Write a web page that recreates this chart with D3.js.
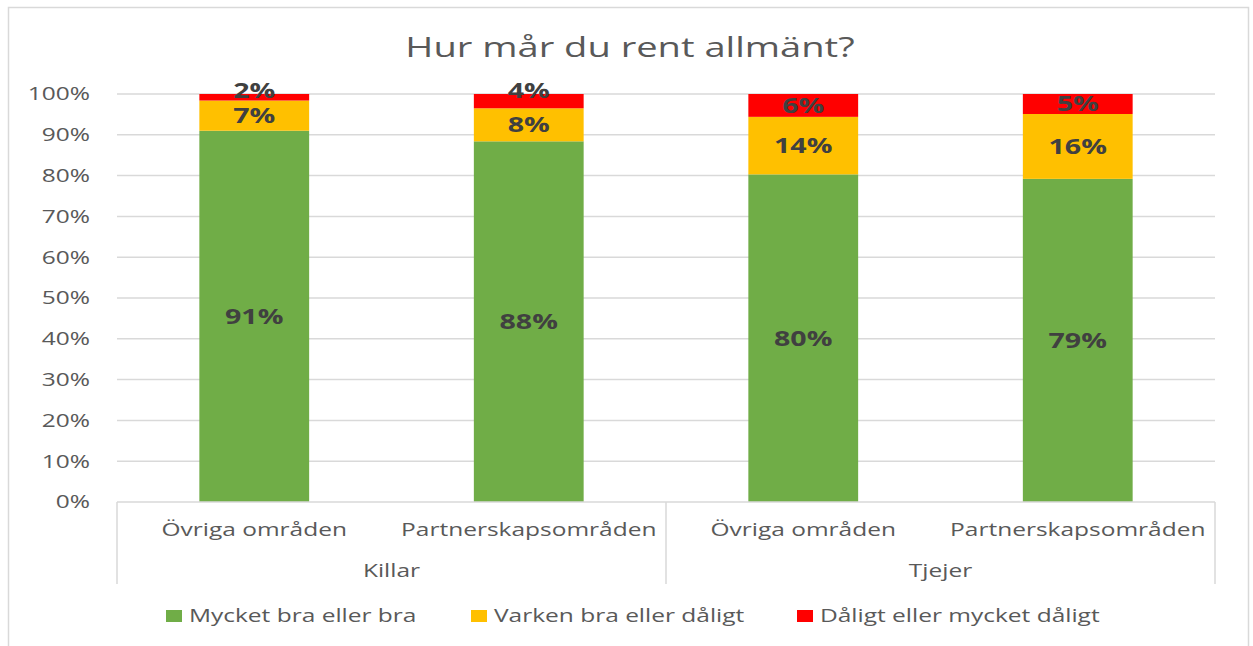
<!DOCTYPE html>
<html lang="sv">
<head>
  <meta charset="UTF-8">
  <title>Hur mår du rent allmänt?</title>
  <style>
    body { margin: 0; background: #fff; font-family: "Open Sans", "DejaVu Sans", sans-serif; }
    svg text { fill: #595959; }
  </style>
</head>
<body>
<div id="chart"></div>
<script src="https://d3js.org/d3.v7.min.js"></script>
<script>
  // chart data
  const subCategories = ["Övriga områden", "Partnerskapsområden", "Övriga områden", "Partnerskapsområden"];
  const groups = ["Killar", "Killar", "Tjejer", "Tjejer"];
  const seriesNames = ["Mycket bra eller bra", "Varken bra eller dåligt", "Dåligt eller mycket dåligt"];
  const bra = [91.0, 88.4, 80.3, 79.2];
  const varken = [7.4, 8.1, 14.1, 15.9];
  const daligt = [1.6, 3.5, 5.6, 4.9];
  const yTicks = [0, 10, 20, 30, 40, 50, 60, 70, 80, 90, 100];
  const colors = ["#70ad47", "#ffc000", "#ff0000"];

  const W = 1253, H = 646;
  const plot = { left: 117, right: 1215, top: 94, bottom: 502 };
  const stretch = 1.36; // the original text is drawn wide

  const svg = d3.select("#chart").append("svg")
    .attr("width", W).attr("height", H);

  // outer border
  svg.append("rect")
    .attr("x", 8.5).attr("y", 7.5).attr("width", 1240).attr("height", 660)
    .attr("fill", "none").attr("stroke", "#d9d9d9").attr("stroke-width", 1.5);

  svg.append("text")
    .attr("x", 630).attr("y", 57)
    .attr("text-anchor", "middle")
    .style("font-size", "28px")
    .text("Hur mår du rent allmänt?");

  const rows = subCategories.map((c, i) => ({ idx: i, cat: c, s0: bra[i], s1: varken[i], s2: daligt[i] }));
  const stacked = d3.stack().keys(["s0", "s1", "s2"])(rows);

  const x = d3.scaleBand().domain(d3.range(rows.length)).range([plot.left, plot.right]).paddingInner(0.6).paddingOuter(0.3);
  const y = d3.scaleLinear().domain([0, 100]).range([plot.bottom, plot.top]);

  // gridlines
  svg.append("g").selectAll("line")
    .data(yTicks.filter(t => t > 0))
    .join("line")
    .attr("x1", plot.left).attr("x2", plot.right)
    .attr("y1", d => y(d)).attr("y2", d => y(d))
    .attr("stroke", "#d9d9d9").attr("stroke-width", 1.5);

  // y axis labels
  svg.append("g").selectAll("text")
    .data(yTicks)
    .join("text")
    .attr("x", 90).attr("y", d => y(d))
    .attr("dy", "0.35em")
    .attr("text-anchor", "end")
    .style("font-size", "18px")
    .text(d => d + "%");

  // bars
  const layer = svg.append("g").selectAll("g")
    .data(stacked)
    .join("g")
    .attr("fill", (d, i) => colors[i]);

  layer.selectAll("rect")
    .data(d => d)
    .join("rect")
    .attr("x", d => x(d.data.idx))
    .attr("width", x.bandwidth())
    .attr("y", d => y(d[1]))
    .attr("height", d => y(d[0]) - y(d[1]));

  // value labels; labels of thin segments sit at the segment's top
  layer.selectAll("text")
    .data(d => d)
    .join("text")
    .attr("x", d => x(d.data.idx) + x.bandwidth() / 2)
    .attr("y", d => {
      const h = y(d[0]) - y(d[1]);
      return h < 16 ? y(d[1]) - 3 : (y(d[0]) + y(d[1])) / 2;
    })
    .attr("dy", "0.35em")
    .attr("text-anchor", "middle")
    .style("font-size", "21px")
    .style("font-weight", "bold")
    .style("fill", "#404040")
    .text(d => Math.round(d[1] - d[0]) + "%");

  // category axis (two levels)
  const axis = svg.append("g");
  axis.append("line")
    .attr("x1", plot.left).attr("x2", plot.right)
    .attr("y1", plot.bottom).attr("y2", plot.bottom)
    .attr("stroke", "#d9d9d9").attr("stroke-width", 1.5);

  const step = (plot.right - plot.left) / rows.length;
  [0, 2, 4].forEach(k => {
    axis.append("line")
      .attr("x1", plot.left + k * step).attr("x2", plot.left + k * step)
      .attr("y1", plot.bottom).attr("y2", 584)
      .attr("stroke", "#d9d9d9").attr("stroke-width", 1.5);
  });

  axis.selectAll("text.sub")
    .data(rows)
    .join("text")
    .attr("class", "sub")
    .attr("x", d => x(d.idx) + x.bandwidth() / 2)
    .attr("y", 536)
    .attr("text-anchor", "middle")
    .style("font-size", "18px")
    .text(d => d.cat);

  const groupNames = Array.from(new Set(groups));
  axis.selectAll("text.grp")
    .data(groupNames)
    .join("text")
    .attr("class", "grp")
    .attr("x", (d, i) => plot.left + (2 * i + 1) * step)
    .attr("y", 577)
    .attr("text-anchor", "middle")
    .style("font-size", "18px")
    .text(d => d);

  // legend
  const legendX = [166, 471, 797];
  const legend = svg.append("g").selectAll("g")
    .data(seriesNames)
    .join("g")
    .attr("transform", (d, i) => `translate(${legendX[i]},616)`);
  legend.append("rect")
    .attr("x", 0).attr("y", -6).attr("width", 16).attr("height", 12)
    .attr("fill", (d, i) => colors[i]);
  legend.append("text")
    .attr("x", 23).attr("y", 0).attr("dy", "0.35em")
    .style("font-size", "18px")
    .text(d => d);

  // widen all text glyphs to match the original's look
  svg.selectAll("text").each(function () {
    const len = this.getComputedTextLength();
    d3.select(this)
      .attr("textLength", len * stretch)
      .attr("lengthAdjust", "spacingAndGlyphs");
  });
</script>
</body>
</html>
